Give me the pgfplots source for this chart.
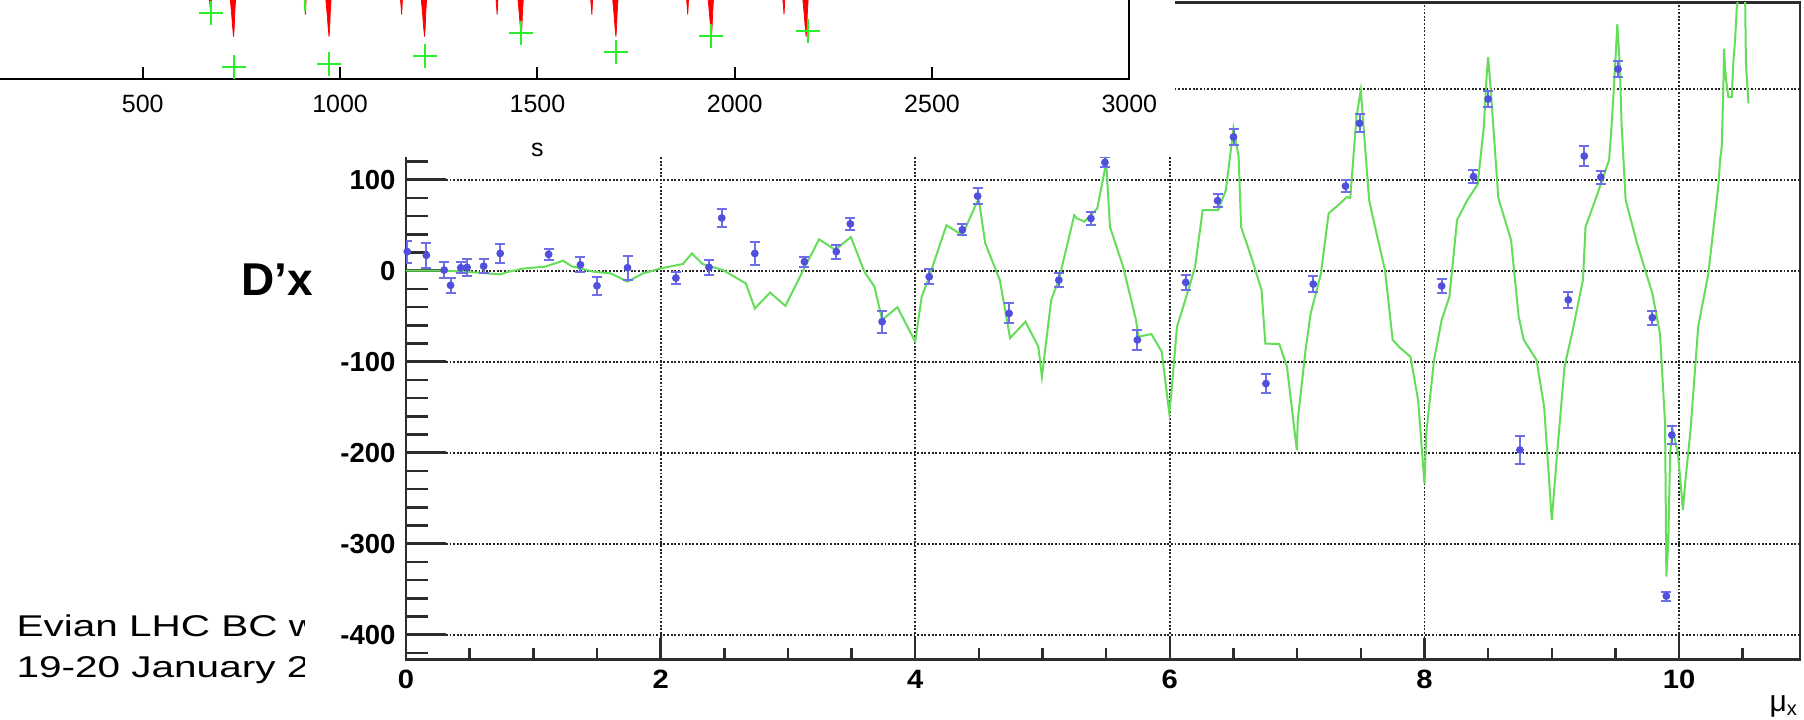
\documentclass[border=0pt]{standalone}
\usepackage{pgfplots}
\pgfplotsset{compat=1.18}
\usepackage{fontspec}
\setmainfont{Liberation Sans}
\definecolor{bluept}{RGB}{80,80,220}
\definecolor{bluebar}{RGB}{110,110,232}
\definecolor{lgreen}{RGB}{100,222,88}
\definecolor{cgreen}{RGB}{40,240,40}
\definecolor{axcol}{RGB}{45,45,45}
\begin{document}
\begin{tikzpicture}
\useasboundingbox (0,0) rectangle (721.6pt,288pt);
\clip (0,0) rectangle (721.6pt,288pt);
% slide text underneath, cut by the plot
\begin{scope}
\clip (0pt,0pt) rectangle (122pt,288pt);
\node[anchor=base west, inner sep=0pt, font=\fontsize{12}{14}\selectfont, xscale=1.35] at (6.4pt,33.3pt) {Evian LHC BC w};
\node[anchor=base west, inner sep=0pt, font=\fontsize{12}{14}\selectfont, xscale=1.35] at (6.4pt,16.8pt) {19-20 January 2};
\end{scope}
\fill[white] (122pt,0pt) rectangle (721.6pt,288pt);
% main plot
\begin{axis}[
  at={(162.4pt,24.28pt)}, anchor=south west,
  scale only axis, width=557.6pt, height=262.8pt,
  xmin=0, xmax=10.95, ymin=-427, ymax=295,
  tick pos=left, tick align=inside,
  axis line style={line width=1pt, axcol},
  xtick={0,2,4,6,8,10}, xticklabels={}, xtick style={draw=none},
  ytick={-400,-300,-200,-100,0,100,200},
  yticklabels={-400,-300,-200,-100,0,100,{}},
  minor ytick={-420,-400,...,280},
  major tick length=16pt, minor tick length=8.8pt,
  ytick style={line width=1pt, axcol},
  yticklabel style={font=\bfseries\fontsize{11}{12}\selectfont, anchor=east, inner sep=0pt, xshift=-4pt},
  grid=major,
  major grid style={black!85, line width=0.75pt, dash pattern=on 0.75pt off 0.7pt},
]
\addplot[lgreen, line width=0.8pt] coordinates {
(0,0) (0.32,0) (0.56,-2) (0.74,-4) (0.81,-1) (0.93,2.6) (1.09,4.4) (1.235,11) (1.30,5)
(1.47,-1) (1.61,-3) (1.74,-12) (1.86,-3) (2.0,2.6) (2.175,7.4) (2.245,19) (2.33,7.4)
(2.49,0.7) (2.67,-14) (2.74,-41.5) (2.86,-24) (2.98,-38.6) (3.12,0.7) (3.245,34.5)
(3.37,23) (3.495,37) (3.60,-1) (3.68,-17.6) (3.74,-54) (3.86,-40) (4.0,-78) (4.05,-29)
(4.105,-8.5) (4.245,50) (4.37,39) (4.48,74) (4.50,78) (4.55,30) (4.664,-10)
(4.745,-74) (4.866,-56) (4.967,-83.5) (4.995,-116.5) (5.068,-32) (5.128,-10) (5.249,61)
(5.27,57.5) (5.33,54) (5.43,68.5) (5.50,119) (5.53,48) (5.633,4.4) (5.734,-54)
(5.754,-72.5) (5.855,-69.6) (5.936,-89) (5.996,-157) (6.016,-127.5) (6.056,-61.5)
(6.137,-25) (6.198,4.4) (6.258,66.7) (6.38,66.7) (6.44,88.6) (6.50,156.5) (6.54,125.5)
(6.56,48) (6.64,15) (6.72,-21) (6.75,-80) (6.86,-80.6) (6.92,-105.5) (6.997,-197)
(7.005,-164) (7.066,-87) (7.106,-47) (7.187,-3) (7.247,63) (7.33,73) (7.39,81)
(7.417,80) (7.466,169) (7.50,198.6) (7.516,169) (7.565,77.7) (7.63,37) (7.69,0.7)
(7.75,-76) (7.81,-85) (7.89,-94.5) (7.95,-142) (8.0,-234) (8.014,-179) (8.075,-98)
(8.135,-54) (8.196,-28.6) (8.256,55.7) (8.337,77.7) (8.418,95) (8.466,158) (8.488,213)
(8.50,235) (8.515,209.6) (8.54,160) (8.58,80) (8.68,33.7) (8.74,-50.5) (8.78,-76)
(8.88,-98) (8.94,-149.5) (9.0,-274) (9.04,-204) (9.10,-105.5) (9.165,-65) (9.245,-10)
(9.265,48) (9.35,81) (9.45,121.6) (9.466,151) (9.49,206) (9.515,271) (9.535,224)
(9.548,162) (9.58,77.7) (9.67,30) (9.79,-25) (9.85,-69) (9.89,-168) (9.90,-336)
(9.915,-300) (9.93,-200) (9.95,-175) (9.99,-200) (10.01,-230) (10.03,-263) (10.05,-230)
(10.09,-175) (10.15,-61.5) (10.23,-3) (10.31,96) (10.322,121.6) (10.335,136) (10.348,202)
(10.353,244) (10.361,224) (10.369,209.6) (10.387,191) (10.414,191) (10.427,231.5)
(10.44,253.5) (10.453,288) (10.473,310) (10.518,310) (10.525,228) (10.545,184)
};
\addplot[only marks, mark=*, mark size=1.35pt, color=bluept,
  error bars/.cd, y dir=both, y explicit, error mark=-,
  error bar style={line width=0.8pt, color=bluebar},
  error mark options={rotate=90, line width=0.8pt, mark size=2pt, color=bluebar}]
table[x=x, y=y, y error=e] {
x y e
0.01 21 12
0.16 17 13.5
0.30 0.7 9
0.35 -16 8
0.43 3.3 6
0.48 3.7 9
0.61 5 7.5
0.74 19 10
1.12 18 6
1.37 6.6 8
1.50 -16.5 10
1.74 3.3 13
2.12 -8 7
2.38 3.7 8
2.48 58 10
2.74 19 12.5
3.13 10 5.5
3.38 21 7.7
3.49 51.5 6.6
3.74 -56 12
4.11 -6.6 8
4.37 45 6
4.49 82 9
4.737 -46.9 11
5.128 -10.3 8
5.38 57.5 7
5.49 119 5.5
5.745 -76 11
6.125 -12.8 8
6.375 77 7
6.50 147 9
6.755 -124 10
7.126 -14.7 9
7.38 93 7
7.49 162 10
8.135 -16.8 8
8.385 103.5 7
8.50 188.7 9
8.75 -197 15.5
9.13 -32 9
9.255 126 11
9.385 102.8 7
9.52 221.6 9
9.79 -51.6 7.7
9.90 -357.5 5
9.943 -180.6 10
};
\end{axis}
% overlay axis for the x ticks
\begin{axis}[
  at={(162.4pt,24.28pt)}, anchor=south west,
  scale only axis, width=557.6pt, height=262.8pt,
  xmin=0, xmax=10.95, ymin=-427, ymax=295,
  hide y axis, axis x line*=bottom, tick align=inside,
  x axis line style={line width=1pt, axcol},
  xtick={0,2,4,6,8,10}, xticklabels={0,2,4,6,8,10},
  minor xtick={0,0.5,...,10.5},
  major tick length=8.4pt, minor tick length=4.4pt,
  xtick style={line width=1pt, axcol},
  xticklabel style={font=\bfseries\fontsize{10.6}{12}\selectfont, xscale=1.1, anchor=center, inner sep=0pt, yshift=-7.9pt},
]
\end{axis}
% inset plot (top left)
\fill[white] (0pt,225.2pt) rectangle (470pt,288pt);
\begin{axis}[
  at={(-21.8pt,256.52pt)}, anchor=south west,
  scale only axis, width=473.52pt, height=40pt,
  xmin=0, xmax=3000, ymin=0, ymax=100,
  axis line style={line width=0.8pt, black},
  ytick=\empty, tick pos=left, tick align=inside,
  xtick={500,1000,...,3000}, xticklabels={500,1000,1500,2000,2500,3000},
  major tick length=4.8pt, xtick style={line width=0.8pt, black},
  xticklabel style={font=\fontsize{10}{12}\selectfont, anchor=center, inner sep=0pt, yshift=-10.2pt},
  xlabel={s}, xlabel style={font=\fontsize{10}{12}\selectfont, at={(axis description cs:0.5,0)}, anchor=center, inner sep=0pt, yshift=-28.6pt},
]
\addplot[fill=red, draw=red, line width=0.3pt] coordinates {(719,110) (722,78) (725,65) (728,50) (730,42) (731.5,50) (733,65) (735,78) (738,110)} -- cycle;
\addplot[fill=red, draw=red, line width=0.3pt] coordinates {(961,110) (964,78) (967,65) (970,50) (972,42) (973.5,50) (975,65) (977,78) (980,110)} -- cycle;
\addplot[fill=red, draw=red, line width=0.3pt] coordinates {(1203,110) (1206,78) (1209,65) (1212,50) (1214,42) (1215.5,50) (1217,65) (1219,78) (1222,110)} -- cycle;
\addplot[fill=red, draw=red, line width=0.3pt] coordinates {(1448,110) (1451,78) (1454,65) (1457,50) (1459,42) (1460.5,50) (1462,65) (1464,78) (1467,110)} -- cycle;
\addplot[fill=red, draw=red, line width=0.3pt] coordinates {(1688,110) (1691,78) (1694,65) (1697,50) (1699,42) (1700.5,50) (1702,65) (1704,78) (1707,110)} -- cycle;
\addplot[fill=red, draw=red, line width=0.3pt] coordinates {(1930,110) (1933,78) (1936,65) (1939,50) (1941,42) (1942.5,50) (1944,65) (1946,78) (1949,110)} -- cycle;
\addplot[fill=red, draw=red, line width=0.3pt] coordinates {(2170,110) (2173,78) (2176,65) (2179,50) (2181,42) (2182.5,50) (2184,65) (2186,78) (2189,110)} -- cycle;
\addplot[fill=red, draw=red, line width=0.3pt] coordinates {(666,110) (669,80) (672,64) (674,80) (676,110)} -- cycle;
\addplot[fill=red, draw=red, line width=0.3pt] coordinates {(906,110) (909,80) (912,64) (914,80) (916,110)} -- cycle;
\addplot[fill=red, draw=red, line width=0.3pt] coordinates {(1150,110) (1153,80) (1156,64) (1158,80) (1160,110)} -- cycle;
\addplot[fill=red, draw=red, line width=0.3pt] coordinates {(1392,110) (1395,80) (1398,64) (1400,80) (1402,110)} -- cycle;
\addplot[fill=red, draw=red, line width=0.3pt] coordinates {(1632,110) (1635,80) (1638,64) (1640,80) (1642,110)} -- cycle;
\addplot[fill=red, draw=red, line width=0.3pt] coordinates {(1875,110) (1878,80) (1881,64) (1883,80) (1885,110)} -- cycle;
\addplot[fill=red, draw=red, line width=0.3pt] coordinates {(2119,110) (2122,80) (2125,64) (2127,80) (2129,110)} -- cycle;
\addplot[only marks, mark=+, mark size=4.8pt, color=cgreen, line width=0.8pt] coordinates {
(672,66) (730,12) (912,79.7) (972,14.4) (1214,22.7) (1459,46) (1699,27) (1941,42.7) (2185,48)};
\end{axis}
\node[anchor=base west, inner sep=0pt, font=\bfseries\fontsize{18.4}{20}\selectfont] at (96.4pt,169.6pt) {D’x};
\node[anchor=base west, inner sep=0pt, font=\fontsize{12}{14}\selectfont] at (707.6pt,3.4pt) {μ\textsubscript{x}};
\end{tikzpicture}
\end{document}
